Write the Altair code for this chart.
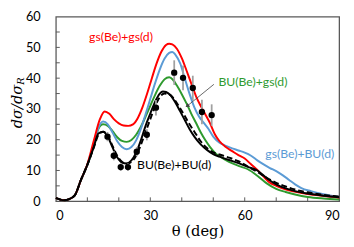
import altair as alt
import pandas as pd

# ---- data ----
red_t = [0, 1, 2.5, 4, 6, 8, 10, 12, 14, 15.5, 17, 18.5, 20, 21.5, 23, 24.5, 26, 27.5, 29, 30.5, 32, 33.5, 35, 36, 37, 38.5, 40, 41.5, 43, 44.5, 46, 47.5, 49, 50.5, 52, 54, 56, 58, 60, 62, 64, 66, 68, 70, 72, 75, 78, 82, 86, 90]
red_y = [1.0, 0.7, 0.3, 0.6, 1.9, 7.0, 12.0, 19.5, 26.7, 29.2, 28.4, 26.6, 25.3, 24.6, 24.5, 25.0, 27.0, 30.5, 35.0, 40.0, 44.8, 48.6, 50.8, 51.2, 51.0, 49.5, 46.5, 42.5, 38.3, 34.2, 31.0, 28.2, 25.3, 21.8, 19.5, 17.6, 16.3, 15.0, 13.9, 12.0, 10.2, 8.0, 6.0, 5.0, 4.2, 3.3, 2.7, 2.1, 1.6, 1.2]

blue_t = [0, 1, 2.5, 4, 6, 8, 10, 12, 13.5, 15, 16.5, 18, 19.5, 21, 22.5, 24, 25.5, 27, 28.5, 30, 31.5, 33, 34.5, 36, 37, 38, 39.5, 41, 42.5, 44, 45.5, 47, 48.5, 50, 52, 54, 56, 58, 60, 62, 64, 66, 68, 70, 72, 74, 76, 78, 81, 85, 90]
blue_y = [1.0, 0.7, 0.3, 0.6, 1.9, 7.0, 11.8, 18.3, 23.8, 25.9, 25.0, 22.3, 19.5, 17.6, 16.9, 17.6, 19.8, 23.5, 28.3, 33.3, 38.3, 42.8, 46.3, 48.2, 48.5, 47.6, 44.8, 39.8, 34.8, 30.5, 27.5, 25.5, 23.5, 21.0, 19.0, 18.0, 17.2, 16.5, 15.8, 14.8, 13.3, 12.0, 10.8, 9.8, 8.5, 7.0, 5.5, 4.3, 3.3, 2.3, 1.4]

green_t = [0, 1, 2.5, 4, 6, 8, 10, 12, 13.5, 15, 16.5, 18, 19.5, 21, 22.5, 24, 25.5, 27, 28.5, 30, 31.5, 33, 34.5, 36, 37.2, 38.5, 40, 41.5, 43, 44.5, 46, 47.5, 49, 50.5, 52, 55, 58, 61, 64, 67, 70, 73, 76, 80, 85, 90]
green_y = [1.0, 0.7, 0.3, 0.6, 1.9, 7.0, 11.8, 18.0, 23.5, 25.0, 24.5, 22.8, 20.8, 19.6, 19.3, 19.9, 21.6, 24.2, 27.5, 31.0, 34.5, 37.5, 39.6, 40.3, 39.5, 37.5, 34.8, 31.8, 28.5, 25.5, 22.4, 19.8, 17.6, 15.8, 14.6, 12.8, 11.5, 10.4, 8.3, 5.8, 4.0, 3.0, 2.2, 1.4, 0.9, 0.6]

black_t = [0, 1, 2.5, 4, 6, 8, 10, 12, 13.5, 15, 16.5, 18, 19.5, 21, 22.5, 24, 25.5, 27, 28.5, 30, 31.5, 33, 34, 35, 36.5, 38, 39.5, 41, 42.5, 44, 46, 48, 50, 52, 55, 58, 61, 64, 67, 70, 73, 76, 80, 85, 90]
black_y = [1.0, 0.7, 0.3, 0.6, 1.9, 7.0, 11.8, 17.5, 22.0, 22.6, 21.0, 17.5, 14.3, 12.6, 12.3, 13.3, 15.8, 19.8, 24.5, 28.5, 32.3, 35.0, 35.7, 35.5, 34.3, 32.0, 29.2, 26.3, 23.4, 21.0, 18.5, 16.7, 15.3, 14.5, 13.4, 12.4, 11.2, 10.0, 7.5, 5.5, 4.2, 3.3, 2.5, 1.8, 1.3]

dash_t = [0, 1, 2.5, 4, 6, 8, 10, 12, 13.5, 15, 16.5, 18, 19.5, 21, 22.5, 24, 25.5, 27, 28.5, 30, 31.5, 33, 34.5, 36, 37.5, 39, 40.5, 42, 44, 46, 48, 50, 52, 55, 58, 61, 64, 67, 70, 73, 76, 80, 85, 90]
dash_y = [1.0, 0.7, 0.3, 0.6, 1.9, 7.0, 11.8, 17.3, 21.5, 22.6, 21.3, 18.0, 14.8, 12.8, 12.2, 12.8, 14.8, 18.3, 22.5, 26.7, 30.8, 33.8, 35.0, 34.8, 33.3, 31.0, 28.5, 25.8, 22.6, 19.5, 17.3, 15.9, 15.2, 14.2, 13.0, 11.3, 9.5, 7.6, 6.0, 4.8, 3.8, 2.9, 2.1, 1.5]

exp_t = [16.4, 18.4, 20.6, 22.9, 25.7, 28.9, 31.8, 37.6, 40.4, 43.5, 46.4, 49.5]
exp_y = [21.0, 14.8, 11.1, 11.1, 16.1, 21.6, 30.4, 41.8, 40.1, 36.8, 29.0, 28.0]
exp_e = [1.5, 1.5, 1.2, 1.2, 1.5, 1.8, 2.5, 4.0, 4.0, 4.0, 4.0, 3.5]

label_text = ["gs(Be)+gs(d)", "BU(Be)+gs(d)", "gs(Be)+BU(d)", "BU(Be)+BU(d)"]
label_t = [20.7, 62.6, 77.5, 37.6]
label_y = [53.2, 38.7, 15.4, 11.6]
label_col = ["#FF0000", "#2E9A2E", "#5B9BD5", "#000000"]

arrow_t = [50.2, 41.9]
arrow_y = [38.0, 31.1]

x_ticks = [10, 20, 30, 40, 50, 60, 70, 80]
y_ticks = [5, 10, 15, 20, 25, 30, 35, 40, 45, 50, 55]

# ---- scales & axes (shared by every layer) ----
W, H = 290, 189
LF = "Lato"
xs = alt.Scale(domain=[0, 90], nice=False, zero=False)
ys = alt.Scale(domain=[0, 60], nice=False, zero=False)
XA = alt.Axis(title="θ (deg)", values=list(range(0, 91, 30)),
              ticks=False, grid=False, domain=False,
              labelFont=LF, labelFontSize=13, labelColor="#000", labelPadding=9,
              titleFont="DejaVu Serif", titleFontSize=15, titleFontWeight="normal",
              titleColor="#000", titlePadding=1)
YA = alt.Axis(title=None, values=list(range(0, 61, 10)),
              ticks=False, grid=False, domain=False,
              labelFont=LF, labelFontSize=13, labelColor="#000", labelPadding=16)

def X(f):
    return alt.X(f, scale=xs, axis=XA)

def Y(f):
    return alt.Y(f, scale=ys, axis=YA)

def curve(ts, vs, color, dash=None):
    df = pd.DataFrame({"t": ts, "v": vs})
    kw = dict(color=color, strokeWidth=2, interpolate="monotone")
    if dash:
        kw["strokeDash"] = dash
    return alt.Chart(df).mark_line(**kw).encode(x=X("t:Q"), y=Y("v:Q"))

xt = alt.Chart(pd.DataFrame({"t": x_ticks})).mark_rule(color="#595959", strokeWidth=1).encode(
    x=X("t:Q"), y=alt.value(H), y2=alt.value(H - 4))
yt = alt.Chart(pd.DataFrame({"v": y_ticks})).mark_rule(color="#595959", strokeWidth=1).encode(
    y=Y("v:Q"), x=alt.value(0), x2=alt.value(4))

err_df = pd.DataFrame({"t": exp_t, "v": exp_y,
                       "lo": [a - b for a, b in zip(exp_y, exp_e)],
                       "hi": [a + b for a, b in zip(exp_y, exp_e)]})
errs = alt.Chart(err_df).mark_rule(color="#A0A0A0", strokeWidth=1.8).encode(
    x=X("t:Q"), y=Y("lo:Q"), y2="hi:Q")
pts = alt.Chart(err_df).mark_circle(color="#000", size=42, opacity=1).encode(
    x=X("t:Q"), y=Y("v:Q"))

lab_df = pd.DataFrame({"t": label_t, "v": label_y, "s": label_text, "c": label_col})
labels = alt.Chart(lab_df).mark_text(font=LF, fontSize=12.5).encode(
    x=X("t:Q"), y=Y("v:Q"), text="s:N", color=alt.Color("c:N", scale=None))

arr_df = pd.DataFrame({"t": arrow_t, "v": arrow_y, "o": [0, 1]})
arrow_line = alt.Chart(arr_df).mark_line(color="#404040", strokeWidth=0.8).encode(
    x=X("t:Q"), y=Y("v:Q"), order="o:Q")
arrow_head = alt.Chart(arr_df.iloc[[1]]).mark_point(
    shape="triangle", filled=True, color="#404040", size=22, angle=236, opacity=1).encode(
    x=X("t:Q"), y=Y("v:Q"))

ytitle = alt.Chart(pd.DataFrame({"s": ["dσ/dσ"]})).mark_text(
    angle=270, font="DejaVu Serif", fontStyle="italic", fontSize=15, color="#000").encode(
    text="s:N", x=alt.value(-40), y=alt.value(92))
ysub = alt.Chart(pd.DataFrame({"s": ["R"]})).mark_text(
    angle=270, font="DejaVu Serif", fontStyle="italic", fontSize=10, color="#000").encode(
    text="s:N", x=alt.value(-36), y=alt.value(66))

chart = alt.layer(
    xt, yt,
    curve(green_t, green_y, "#2E9A2E"),
    curve(blue_t, blue_y, "#5B9BD5"),
    curve(red_t, red_y, "#FF0000"),
    curve(dash_t, dash_y, "#000000", [6, 3]),
    curve(black_t, black_y, "#000000"),
    errs, pts, labels, arrow_line, arrow_head, ytitle, ysub,
).properties(
    width=W, height=H,
    autosize=alt.AutoSizeParams(type="none"),
    padding={"left": 49, "top": 6, "right": 7, "bottom": 44},
).configure_view(stroke="#595959", strokeWidth=1.3)

chart.save("out.html", embed_options={"renderer": "svg", "actions": False})
